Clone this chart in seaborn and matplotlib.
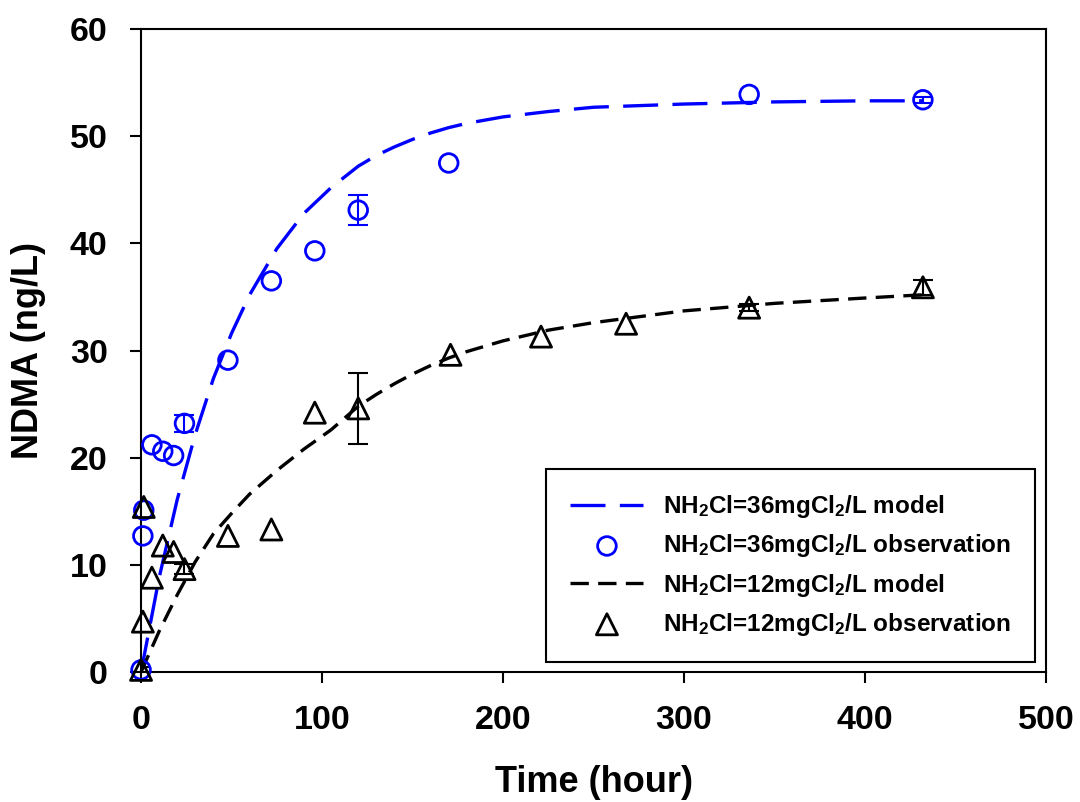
"""
NDMA formation over time for two monochloramine doses:
model curves vs. observations
"""

import numpy as np
import matplotlib
matplotlib.use("Agg")
import matplotlib.pyplot as plt
import seaborn as sns

# Model curves
model_t = [0, 10, 20, 30, 40, 50, 60, 75, 90, 105, 120, 130, 140, 150, 160,
           170, 180, 190, 200, 225, 250, 300, 350, 400, 432]
model_36 = [0, 8.8, 16.1, 22.2, 27.4, 31.6, 35.2, 39.5, 42.8, 45.2, 47.2,
            48.2, 49.0, 49.7, 50.3, 50.8, 51.2, 51.5, 51.8, 52.3, 52.7,
            53.0, 53.2, 53.3, 53.3]
model_12 = [0, 3.8, 7.2, 10.3, 12.9, 14.8, 16.6, 18.8, 20.8, 22.6, 24.8,
            25.9, 26.9, 27.8, 28.6, 29.3, 29.9, 30.4, 30.9, 31.9, 32.6,
            33.7, 34.4, 34.9, 35.2]

# Observations
obs36_t = [0, 1, 1.5, 6, 12, 18, 24, 48, 72, 96, 120, 170, 336, 432]
obs36 = [0.2, 12.7, 15.1, 21.2, 20.6, 20.2, 23.2, 29.1, 36.5, 39.3, 43.1,
         47.5, 53.9, 53.4]
obs12_t = [0, 1, 1.5, 6, 12, 18, 24, 48, 72, 96, 120, 171, 221, 268, 336, 432]
obs12 = [0.2, 4.7, 15.4, 8.8, 11.8, 11.2, 9.6, 12.7, 13.3, 24.2, 24.6, 29.6,
         31.3, 32.5, 34.0, 35.9]

# Error bars (only the visible ones)
err36_t = [24, 120, 432]
err36_y = [23.2, 43.1, 53.4]
err36 = [0.8, 1.4, 0.3]
err12_t = [0, 24, 120, 336, 432]
err12_y = [0.2, 9.6, 24.6, 34.0, 35.9]
err12 = [0.3, 0.5, 3.3, 0.3, 0.7]

labels = [r'NH$_2$Cl=36mgCl$_2$/L model',
          r'NH$_2$Cl=36mgCl$_2$/L observation',
          r'NH$_2$Cl=12mgCl$_2$/L model',
          r'NH$_2$Cl=12mgCl$_2$/L observation']

sns.set_style("ticks")
plt.rcParams['font.family'] = ['Liberation Sans', 'DejaVu Sans']
plt.rcParams['font.weight'] = 'bold'
plt.rcParams['mathtext.fontset'] = 'custom'
plt.rcParams['mathtext.rm'] = 'Liberation Sans:bold'
plt.rcParams['mathtext.bf'] = 'Liberation Sans:bold'
plt.rcParams['mathtext.default'] = 'rm'
for key in ['text.color', 'axes.labelcolor', 'xtick.color', 'ytick.color',
            'axes.edgecolor']:
    plt.rcParams[key] = 'black'

fig, ax = plt.subplots(figsize=(10.8, 8.02), dpi=100)
fig.subplots_adjust(left=0.1306, right=0.9685, top=0.9638, bottom=0.1621)

# Model lines
sns.lineplot(x=model_t, y=model_36, ax=ax, color='#0000ff', linewidth=2.4,
             linestyle=(0, (10.5, 4.3)), label=labels[0])
sns.lineplot(x=model_t, y=model_12, ax=ax, color='black', linewidth=2.4,
             linestyle=(0, (5.5, 2.8)), label=labels[2])

# Error bars
ax.errorbar(err36_t, err36_y, yerr=err36, fmt='none', ecolor='#0000ff',
            elinewidth=1.5, capsize=7, capthick=1.5, zorder=3)
ax.errorbar(err12_t, err12_y, yerr=err12, fmt='none', ecolor='black',
            elinewidth=1.5, capsize=7, capthick=1.5, zorder=3)

# Observations
sns.scatterplot(x=obs36_t, y=obs36, ax=ax, marker='o', s=180,
                facecolor='none', edgecolor='#0000ff', linewidth=2.0,
                label=labels[1], zorder=4, clip_on=False)
sns.scatterplot(x=obs12_t, y=obs12, ax=ax, marker='^', s=230,
                facecolor='none', edgecolor='black', linewidth=2.0,
                label=labels[3], zorder=4, clip_on=False)

ax.set_xlim(0, 500)
ax.set_ylim(0, 60)
ax.set_xticks(np.arange(0, 501, 100))
ax.set_yticks(np.arange(0, 61, 10))
ax.tick_params(axis='both', direction='out', length=8, width=1.5,
               labelsize=24.5, colors='black')
ax.tick_params(axis='x', pad=16)
ax.tick_params(axis='y', pad=16)
for sp in ax.spines.values():
    sp.set_linewidth(1.5)
    sp.set_color('black')

ax.set_xlabel('Time (hour)', fontsize=26, fontweight='bold', labelpad=21)
ax.set_ylabel('NDMA (ng/L)', fontsize=26, fontweight='bold', labelpad=17)

# Legend in the order: model, observation, model, observation
handles, labs = ax.get_legend_handles_labels()
order = [labs.index(l) for l in labels]
leg = ax.legend([handles[i] for i in order], [labs[i] for i in order],
                loc='lower right', bbox_to_anchor=(0.988, 0.0156),
                borderaxespad=0, fontsize=17.5, frameon=True, fancybox=False,
                framealpha=1, edgecolor='black', handlelength=3.0,
                handletextpad=0.8, labelspacing=0.5, borderpad=1.0)
leg.get_frame().set_linewidth(1.5)

plt.savefig('out.png', dpi=100)
